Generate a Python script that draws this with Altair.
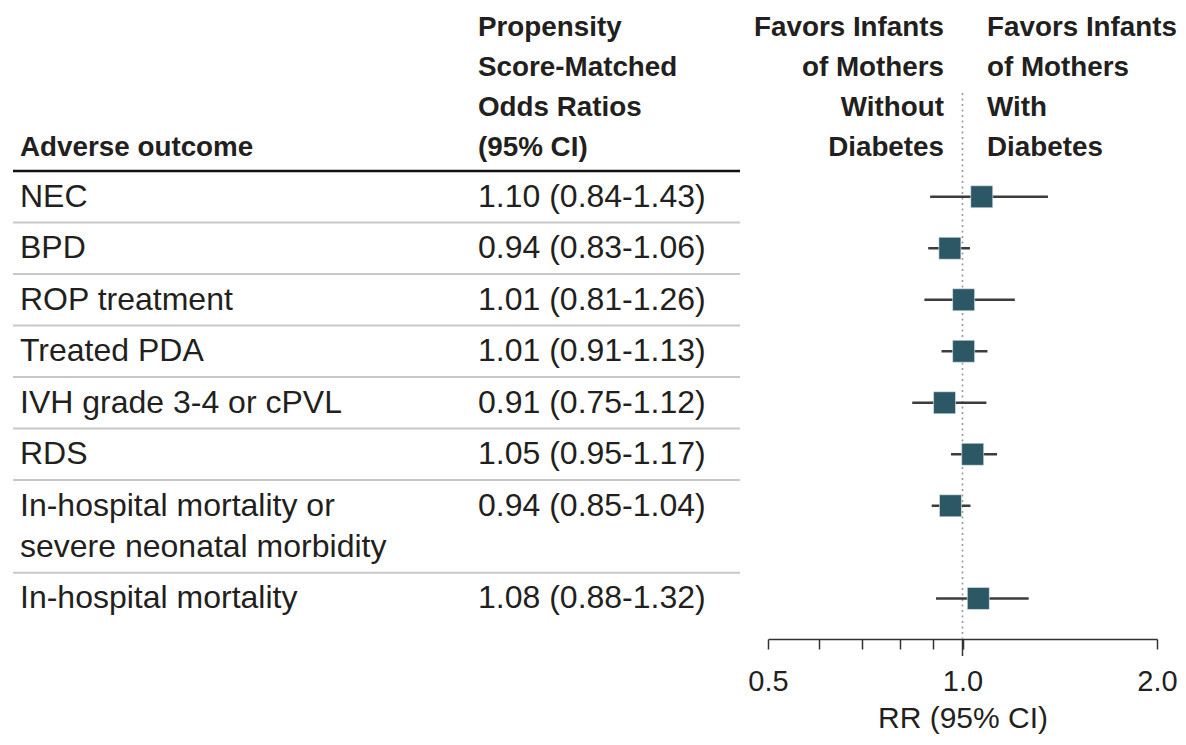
import altair as alt
import pandas as pd

# ---------------- data ----------------
outcomes = [
    "NEC",
    "BPD",
    "ROP treatment",
    "Treated PDA",
    "IVH grade 3-4 or cPVL",
    "RDS",
    "In-hospital mortality or\nsevere neonatal morbidity",
    "In-hospital mortality",
]
or_text = [
    "1.10 (0.84-1.43)",
    "0.94 (0.83-1.06)",
    "1.01 (0.81-1.26)",
    "1.01 (0.91-1.13)",
    "0.91 (0.75-1.12)",
    "1.05 (0.95-1.17)",
    "0.94 (0.85-1.04)",
    "1.08 (0.88-1.32)",
]
# plotted values
est = [1.071, 0.956, 1.004, 1.004, 0.938, 1.037, 0.958, 1.058]
lo = [0.891, 0.885, 0.873, 0.928, 0.836, 0.960, 0.896, 0.910]
hi = [1.356, 1.027, 1.205, 1.093, 1.089, 1.131, 1.029, 1.266]

hdr_outcome = ["Adverse outcome"]
hdr_or = ["Propensity", "Score-Matched", "Odds Ratios", "(95% CI)"]
hdr_left = ["Favors Infants", "of Mothers", "Without", "Diabetes"]
hdr_right = ["Favors Infants", "of Mothers", "With", "Diabetes"]

tick_values = [0.5, 0.6, 0.7, 0.8, 0.9, 1.0, 2.0]
tick_labels = [0.5, 1.0, 2.0]
x_title = "RR (95% CI)"

# ---------------- layout helpers ----------------
LINE = 0.8      # extra row units per additional text line
HLINE = 0.777   # header line spacing in row units

rows, lines, seps = [], [], []
top = 0.0
for i, name in enumerate(outcomes):
    parts = name.split("\n")
    center = top + 0.5
    rows.append(dict(outcome=name, ortext=or_text[i], est=est[i], lo=lo[i], hi=hi[i], y=center))
    for k, p in enumerate(parts):
        lines.append(dict(text=p, y=center + k * LINE))
    if i > 0:
        seps.append(dict(y=top))
    top += 1 + LINE * (len(parts) - 1)

df = pd.DataFrame(rows)
df_lines = pd.DataFrame(lines)
df_seps = pd.DataFrame(seps)
df_head = pd.DataFrame([dict(y=0.0)])
df_ref = pd.DataFrame([dict(v=1.0)])


def header_df(texts):
    n = len(texts)
    return pd.DataFrame([dict(text=t, y=-0.44 - (n - 1 - k) * HLINE) for k, t in enumerate(texts)])


FONT = "Liberation Sans"
BODY = 32
HEAD = 27.8
INK = "#231f20"

xscale = alt.Scale(type="log", domain=[0.5, 2.0], range=[760, 1149])
yscale = alt.Scale(domain=[0, 9.087], range=[163, 631])

Y = alt.Y("y:Q", scale=yscale, axis=None)

xaxis = alt.Axis(
    values=tick_values,
    labelExpr="indexof(%s, datum.value) >= 0 ? format(datum.value, '.1f') : ''" % str(tick_labels),
    title=x_title,
    grid=False,
    domainColor="#333333",
    domainWidth=1.5,
    tickColor="#333333",
    tickWidth=1.5,
    tickSize=10,
    labelFont=FONT,
    labelFontSize=29,
    labelColor=INK,
    labelPadding=18,
    labelFlush=False,
    labelOverlap=False,
    titleFont=FONT,
    titleFontSize=30,
    titleFontWeight="normal",
    titleColor=INK,
    titlePadding=7,
)

ref_rule = alt.Chart(df_ref).mark_rule(color="#9a9a9a", strokeWidth=1.6, strokeDash=[2, 3.5]).encode(
    x=alt.X("v:Q", scale=xscale, axis=xaxis),
    y=alt.value(85),
    y2=alt.value(631),
)
ref_tick = alt.Chart(df_ref).mark_rule(color="#333333", strokeWidth=1.5).encode(
    x=alt.X("v:Q", scale=xscale),
    y=alt.value(631),
    y2=alt.value(648),
)

ci = alt.Chart(df).mark_rule(color="#3c3c3c", strokeWidth=2.5).encode(
    x=alt.X("lo:Q", scale=xscale),
    x2="hi:Q",
    y=Y,
)
sq = alt.Chart(df).mark_square(size=484, color="#2c5866", opacity=1, stroke="#e6eef0", strokeWidth=0.6).encode(
    x=alt.X("est:Q", scale=xscale),
    y=Y,
)

seprules = alt.Chart(df_seps).mark_rule(color="#c8c8c8", strokeWidth=2).encode(
    y=Y, x=alt.value(5), x2=alt.value(732)
)
headrule = alt.Chart(df_head).mark_rule(color="#111111", strokeWidth=2.6).encode(
    y=Y, x=alt.value(5), x2=alt.value(732)
)

lab = alt.Chart(df_lines).mark_text(align="left", baseline="middle", font=FONT, fontSize=BODY, color=INK).encode(
    x=alt.value(12), y=Y, text="text:N"
)
ort = alt.Chart(df).mark_text(align="left", baseline="middle", font=FONT, fontSize=BODY, color=INK).encode(
    x=alt.value(470), y=Y, text="ortext:N"
)


def head(texts, x, align):
    return alt.Chart(header_df(texts)).mark_text(
        align=align, baseline="middle", font=FONT, fontSize=HEAD, fontWeight="bold", color=INK
    ).encode(x=alt.value(x), y=Y, text="text:N")


chart = alt.layer(
    seprules, headrule, ref_rule, ref_tick, ci, sq, lab, ort,
    head(hdr_outcome, 12, "left"),
    head(hdr_or, 470, "left"),
    head(hdr_left, 936, "right"),
    head(hdr_right, 979, "left"),
).properties(
    width=1170,
    height=631,
    autosize="none",
    padding={"left": 0, "top": 0, "right": 0, "bottom": 98},
    background="white",
).configure_view(stroke=None)

chart.save("out.html", embed_options={"renderer": "svg", "actions": False})
